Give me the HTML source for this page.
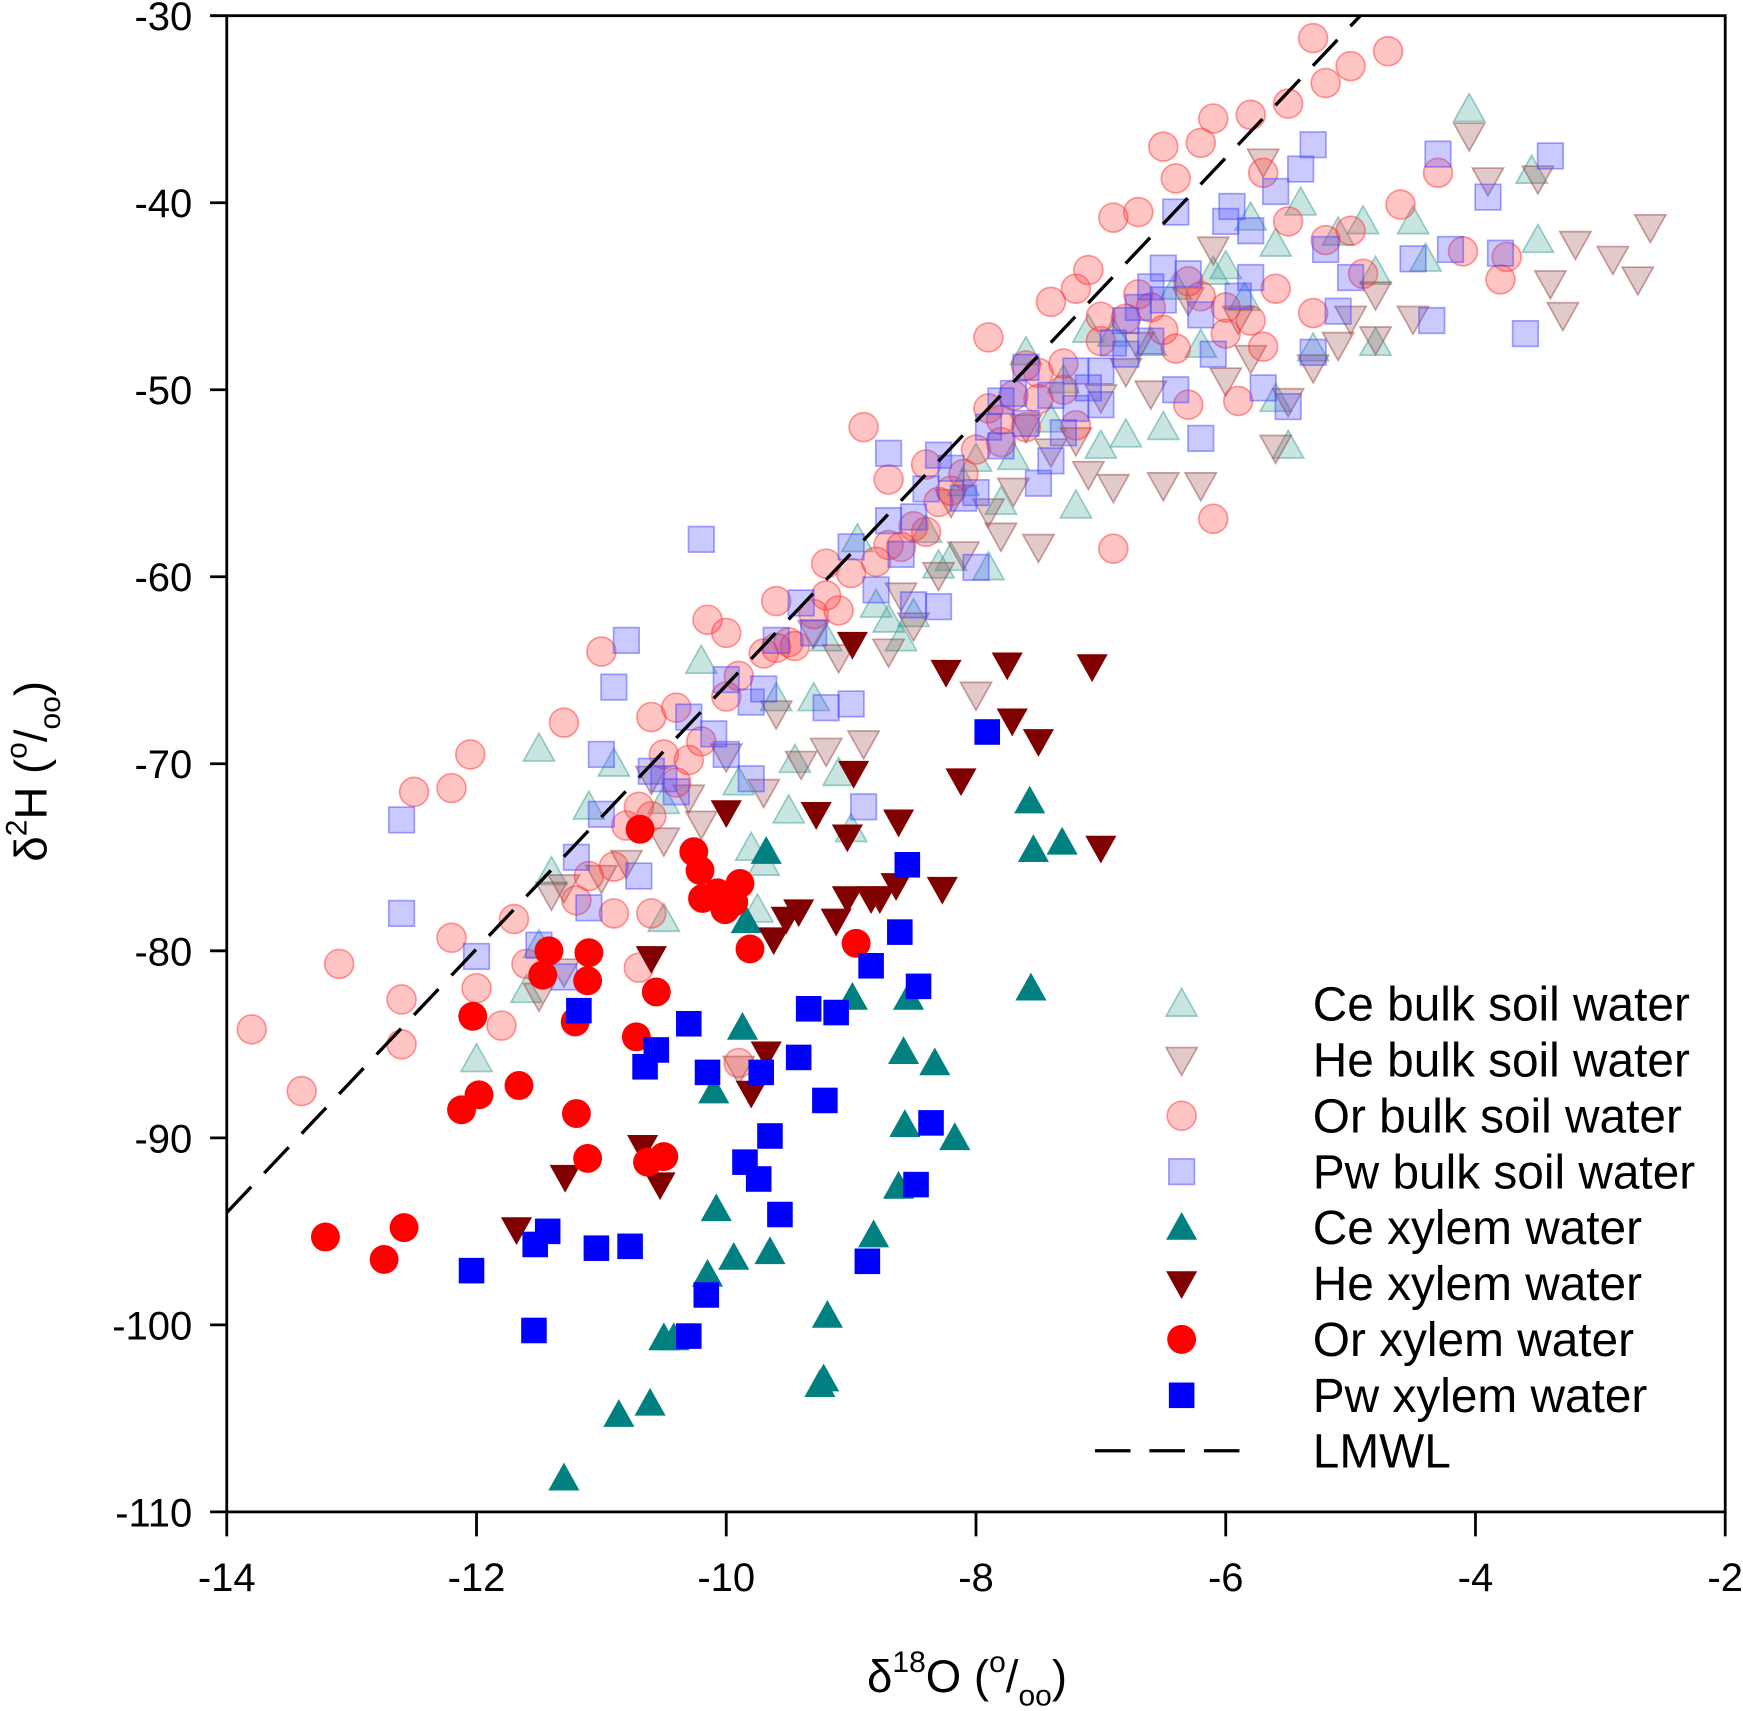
<!DOCTYPE html>
<html><head><meta charset="utf-8"><style>
html,body{margin:0;padding:0;background:#fff}
svg{display:block;font-family:"Liberation Sans",Arial,sans-serif}
</style></head><body>
<svg id="chart" width="1743" height="1711" viewBox="0 0 1568 1539" xmlns="http://www.w3.org/2000/svg">
<g id="marks"></g>
<g id="axes"></g>
<g id="legend"></g>
</svg>
<script>
const xTicks=[-14,-12,-10,-8,-6,-4,-2];
const yTicks=[-30,-40,-50,-60,-70,-80,-90,-100,-110];
const lmwlSlope=7.05, lmwlIntercept=4.7;
const orBulk=[[-13.8,-84.2],[-13.4,-87.5],[-13.1,-80.7],[-12.6,-82.6],[-12.6,-85],[-12.5,-71.5],[-12.2,-79.3],[-12.2,-71.3],[-12.05,-69.5],[-12.0,-82],[-11.8,-84],[-11.7,-78.3],[-11.6,-80.7],[-11.3,-67.8],[-11.2,-77.3],[-11.0,-64],[-10.9,-78],[-10.9,-75.5],[-10.7,-80.9],[-10.6,-67.5],[-10.6,-78],[-10.5,-69.5],[-10.4,-67],[-10.15,-62.3],[-10.0,-63],[-9.9,-86],[-9.6,-61.3],[-9.2,-59.3],[-8.7,-54.8],[-8.9,-52],[-8.4,-54],[-7.9,-47.2],[-7.6,-48.7],[-7.4,-45.3],[-7.2,-44.6],[-7.1,-43.6],[-6.9,-58.5],[-6.9,-40.8],[-6.7,-40.5],[-6.5,-37],[-6.4,-38.7],[-6.2,-36.8],[-6.1,-35.5],[-6.1,-56.9],[-5.8,-35.3],[-5.7,-38.4],[-5.5,-34.7],[-5.3,-31.2],[-5.2,-33.6],[-5.0,-32.7],[-4.7,-31.9],[-4.3,-38.4],[-4.6,-40.1],[-3.8,-44.1],[-4.1,-42.6],[-3.75,-42.9],[-4.9,-43.8],[-5.2,-42],[-5.0,-41.5],[-5.3,-45.9],[-5.6,-44.6],[-6.0,-47],[-6.3,-50.8],[-5.9,-50.6],[-6.8,-46.2],[-7.0,-47.4],[-7.3,-50],[-7.6,-52],[-7.9,-51],[-8.0,-53.2],[-8.3,-56],[-8.5,-57.3],[-8.7,-58.3],[-9.0,-59.8],[-9.3,-62],[-9.5,-63.5],[-9.7,-64.1],[-9.9,-65.3],[-10.2,-68.8],[-10.4,-71],[-10.6,-72.8],[-10.8,-73.3],[-11.1,-76],[-9.1,-61.8],[-8.2,-55.4],[-7.7,-50.3],[-7.5,-49.1],[-6.6,-45.6],[-6.4,-47.8],[-6.2,-45],[-5.8,-46.3],[-5.5,-41],[-9.45,-63.7],[-8.6,-58.4],[-7.8,-52.8],[-8.1,-54.5],[-7.8,-51.6],[-7.5,-50.5],[-7.3,-48.6],[-7.0,-46.1],[-6.7,-44.9],[-6.5,-46.8],[-6.3,-44.2],[-8.4,-57.6],[-8.8,-59.2],[-9.2,-61.0],[-9.6,-63.8],[-10.0,-66.4],[-10.3,-69.8],[-10.7,-72.3],[-6.0,-45.6],[-5.7,-47.7],[-7.2,-51.9]];
const pwBulk=[[-12.6,-73],[-12.6,-78],[-12.0,-80.3],[-11.5,-79.7],[-11.3,-81.4],[-11.1,-77.7],[-11.2,-75],[-11.0,-72.7],[-10.9,-65.9],[-10.8,-63.4],[-11.0,-69.5],[-10.7,-76],[-10.5,-70.8],[-10.3,-67.5],[-10.2,-58],[-10.0,-69.5],[-9.8,-66.7],[-9.6,-63.4],[-9.4,-61.4],[-9.2,-67],[-9.0,-66.8],[-8.9,-72.3],[-9.0,-58.4],[-8.8,-60.7],[-8.5,-61.5],[-8.3,-61.6],[-8.0,-59.5],[-8.3,-53.5],[-7.9,-52],[-7.6,-48.8],[-7.4,-53.8],[-7.2,-51],[-7.0,-49],[-6.8,-46.3],[-6.5,-43.5],[-6.4,-50],[-6.2,-46],[-6.0,-41],[-5.8,-41.5],[-5.6,-39.4],[-5.4,-38.2],[-5.3,-36.9],[-5.2,-42.5],[-5.0,-44],[-5.1,-45.8],[-5.3,-48],[-5.5,-50.9],[-5.7,-49.9],[-5.9,-45],[-6.2,-52.6],[-6.6,-44.5],[-6.9,-47.5],[-7.1,-49.9],[-7.3,-52.3],[-7.5,-55],[-7.8,-53],[-8.1,-55.8],[-8.4,-55.3],[-8.6,-58.8],[-4.3,-37.4],[-4.35,-46.3],[-4.5,-43],[-4.2,-42.5],[-3.8,-42.7],[-3.6,-47],[-3.4,-37.5],[-3.9,-39.7],[-6.4,-40.5],[-5.95,-40.2],[-9.8,-70.8],[-10.0,-65.5],[-8.7,-53.4],[-7.7,-50.2],[-6.7,-45.6],[-8.2,-54.2],[-8.0,-55.5],[-7.8,-50.6],[-7.6,-51.8],[-7.4,-50.3],[-7.2,-49.0],[-7.0,-50.8],[-6.8,-48.1],[-6.6,-47.4],[-6.5,-45.2],[-6.3,-43.8],[-8.5,-56.8],[-8.7,-57.0],[-9.3,-63.0],[-9.7,-66.0],[-10.1,-68.4],[-10.4,-71.5],[-10.6,-70.4],[-5.8,-44.0],[-6.1,-48.1]];
const ceBulk=[[-12.0,-85.8],[-11.6,-82.1],[-11.5,-79.7],[-11.4,-75.8],[-11.1,-72.3],[-10.5,-78.3],[-11.5,-69.2],[-10.2,-64.5],[-9.9,-71],[-9.8,-74.5],[-9.75,-77.8],[-9.7,-75.3],[-9.5,-72.5],[-9.45,-69.8],[-9.3,-66.5],[-9.1,-70.5],[-9.0,-73.5],[-8.95,-58],[-8.8,-61.5],[-8.6,-63.3],[-8.5,-62],[-8.2,-59],[-8.0,-53.7],[-7.9,-59.5],[-7.7,-53.6],[-7.6,-48],[-7.4,-51.6],[-7.2,-56.2],[-7.0,-53],[-6.8,-52.4],[-6.6,-47.5],[-6.4,-44.5],[-6.2,-47.6],[-6.0,-43.4],[-5.8,-40.8],[-5.6,-42.2],[-5.4,-40],[-5.3,-47.8],[-5.5,-53],[-5.6,-50.5],[-5.85,-45.1],[-4.8,-43.7],[-5.1,-41.6],[-4.9,-41],[-4.5,-41.0],[-4.4,-43],[-4.05,-35],[-3.55,-38.3],[-3.5,-42],[-4.8,-47.5],[-6.5,-52],[-7.1,-46.8],[-8.3,-59.4],[-9.6,-66.5],[-10.5,-72],[-10.9,-70],[-9.2,-63.3],[-8.7,-62.3],[-7.8,-56],[-6.1,-43.7],[-7.3,-49.5],[-6.9,-47.0],[-8.1,-55.0],[-8.4,-57.5]];
const heBulk=[[-11.5,-82.4],[-11.3,-81.1],[-11.4,-77],[-11.3,-76.6],[-11.0,-76.1],[-10.8,-75.3],[-10.5,-74.1],[-10.3,-71.8],[-10.2,-73.2],[-10.0,-69.6],[-9.9,-86.3],[-9.7,-71.5],[-9.4,-70],[-9.2,-69.3],[-8.9,-68.9],[-8.7,-64],[-8.5,-62.6],[-8.3,-59.9],[-8.1,-58.8],[-8.0,-66.3],[-7.8,-57.8],[-7.5,-58.4],[-7.4,-53.3],[-7.1,-54.5],[-6.9,-55.2],[-6.6,-50.2],[-6.5,-55.1],[-6.2,-55.1],[-6.0,-49.5],[-5.8,-48.3],[-5.6,-53.1],[-5.5,-50.6],[-5.3,-48.8],[-5.1,-47.6],[-5.0,-46.2],[-4.8,-44.9],[-4.8,-47.3],[-4.5,-46.2],[-4.05,-36.4],[-3.9,-38.8],[-3.5,-38.7],[-3.4,-44.3],[-3.2,-42.2],[-2.9,-43],[-2.7,-44.1],[-2.6,-41.3],[-3.3,-46],[-5.7,-37.8],[-6.1,-42.5],[-6.3,-45.2],[-6.7,-47.6],[-7.0,-50.4],[-7.2,-52.7],[-7.7,-55.4],[-8.6,-61],[-9.1,-64.3],[-9.6,-67.3],[-10.6,-70.8],[-5.9,-46.2],[-7.9,-56.5],[-8.2,-56.0],[-7.6,-52.0],[-6.8,-49.0],[-9.3,-63.0]];
const ceXylem=[[-11.30,-108.2],[-10.86,-104.8],[-10.61,-104.2],[-10.50,-100.7],[-10.42,-100.7],[-10.15,-97.3],[-10.10,-87.5],[-10.08,-93.8],[-9.94,-96.4],[-9.87,-84.1],[-9.84,-78.4],[-9.68,-74.7],[-9.65,-96.1],[-9.19,-99.5],[-9.25,-103.2],[-9.22,-102.9],[-8.99,-82.5],[-8.82,-95.2],[-8.62,-92.6],[-8.58,-85.4],[-8.57,-89.3],[-8.54,-82.5],[-8.33,-86.0],[-8.17,-90.0],[-7.57,-72.0],[-7.54,-74.6],[-7.31,-74.2],[-7.56,-82.0]];
const heXylem=[[-11.68,-94.9],[-11.29,-92.1],[-10.67,-90.5],[-10.53,-92.5],[-10.60,-80.4],[-10.0,-72.6],[-9.80,-87.6],[-9.68,-85.5],[-9.62,-79.4],[-9.52,-78.3],[-9.42,-77.9],[-9.28,-72.7],[-9.12,-78.4],[-9.03,-73.9],[-9.03,-77.2],[-8.99,-63.6],[-8.98,-70.5],[-8.84,-77.2],[-8.77,-77.2],[-8.64,-76.5],[-8.62,-73.1],[-8.27,-76.7],[-8.24,-65.1],[-8.12,-70.9],[-7.75,-64.7],[-7.71,-67.7],[-7.50,-68.8],[-7.07,-64.8],[-7.0,-74.5]];
const orXylem=[[-13.21,-95.3],[-12.74,-96.5],[-12.58,-94.8],[-12.12,-88.5],[-11.98,-87.7],[-12.03,-83.5],[-11.66,-87.2],[-11.47,-81.3],[-11.42,-80.0],[-11.10,-80.1],[-11.11,-81.6],[-11.21,-83.8],[-11.2,-88.7],[-11.11,-91.1],[-10.69,-73.5],[-10.72,-84.6],[-10.56,-82.2],[-10.63,-91.3],[-10.5,-91.0],[-10.26,-74.7],[-10.21,-75.7],[-10.19,-77.2],[-10.07,-76.9],[-10.01,-77.8],[-9.89,-76.4],[-9.81,-79.9],[-8.96,-79.6],[-9.94,-77.4]];
const pwXylem=[[-12.04,-97.1],[-11.54,-100.3],[-11.53,-95.7],[-11.43,-95.0],[-11.18,-83.2],[-11.04,-95.9],[-10.77,-95.8],[-10.65,-86.2],[-10.56,-85.3],[-10.30,-83.9],[-10.30,-100.6],[-10.15,-86.5],[-10.16,-98.4],[-9.85,-91.3],[-9.74,-92.2],[-9.72,-86.5],[-9.65,-89.9],[-9.57,-94.1],[-9.42,-85.7],[-9.34,-83.1],[-9.21,-88.0],[-9.12,-83.3],[-8.87,-96.6],[-8.84,-80.8],[-8.61,-79.0],[-8.55,-75.4],[-8.46,-81.9],[-8.36,-89.2],[-8.48,-92.5],[-7.91,-68.3]];

const NS="http://www.w3.org/2000/svg";
const X0=204,X1=1552,Y0=14,Y1=1360;
function xs(v){return X0+(v-(-14))/12*(X1-X0);}
function ys(v){return Y0+(-30-v)/80*(Y1-Y0);}
function mk(tag,attrs,parent){const e=document.createElementNS(NS,tag);for(const k in attrs)e.setAttribute(k,attrs[k]);parent.appendChild(e);return e;}
function shape(type,cx,cy,fill,stroke,op,parent){
  let e;
  if(type==='circle'){e=mk('circle',{cx:cx,cy:cy,r:13},parent);}
  else if(type==='square'){e=mk('rect',{x:cx-11.5,y:cy-11.5,width:23,height:23},parent);}
  else if(type==='up'){e=mk('polygon',{points:`${cx},${cy-14} ${cx+14},${cy+11} ${cx-14},${cy+11}`},parent);}
  else {e=mk('polygon',{points:`${cx},${cy+14} ${cx+14},${cy-11} ${cx-14},${cy-11}`},parent);}
  e.setAttribute('fill',fill);e.setAttribute('fill-opacity',op);
  if(stroke){e.setAttribute('stroke',stroke);e.setAttribute('stroke-opacity',Math.min(1,op*1.6));e.setAttribute('stroke-width',1.5);}
  return e;
}
const series=[
 {name:'ce-bulk',data:ceBulk,type:'up',fill:'#4aa8a0',op:0.3,stroke:'#3a9a90',label:'Ce bulk soil water'},
 {name:'he-bulk',data:heBulk,type:'down',fill:'#a05050',op:0.3,stroke:'#904040',label:'He bulk soil water'},
 {name:'or-bulk',data:orBulk,type:'circle',fill:'#ff4040',op:0.3,stroke:'#ff3030',label:'Or bulk soil water'},
 {name:'pw-bulk',data:pwBulk,type:'square',fill:'#5050ff',op:0.3,stroke:'#4040ff',label:'Pw bulk soil water'},
 {name:'ce-xylem',data:ceXylem,type:'up',fill:'#008080',op:1,stroke:null,label:'Ce xylem water'},
 {name:'he-xylem',data:heXylem,type:'down',fill:'#800000',op:1,stroke:null,label:'He xylem water'},
 {name:'or-xylem',data:orXylem,type:'circle',fill:'#ff0000',op:1,stroke:null,label:'Or xylem water'},
 {name:'pw-xylem',data:pwXylem,type:'square',fill:'#0000ff',op:1,stroke:null,label:'Pw xylem water'}
];
const marks=document.getElementById('marks');
series.forEach(s=>{
  const g=mk('g',{},marks);
  
  
  s.data.forEach(d=>{
    const e=shape(s.type,xs(d[0]),ys(d[1]),s.fill,s.stroke,s.op,g);
    
    
  });
});
const lx0=-14, lx1=(-30-lmwlIntercept)/lmwlSlope;
const lm=mk('line',{x1:xs(lx0),y1:ys(lmwlSlope*lx0+lmwlIntercept),x2:xs(lx1),y2:ys(lmwlSlope*lx1+lmwlIntercept),stroke:'#000','stroke-width':3,'stroke-dasharray':'32,17'},marks);


const ax=document.getElementById('axes');
const frame=mk('rect',{x:X0,y:Y0,width:X1-X0,height:Y1-Y0,fill:'none',stroke:'#000','stroke-width':2.5},ax);


xTicks.forEach(t=>{
  mk('line',{x1:xs(t),y1:Y1,x2:xs(t),y2:Y1+22,stroke:'#000','stroke-width':2.5},ax);
  const tx=mk('text',{x:xs(t),y:1431,'font-size':36,'text-anchor':'middle'},ax);
  tx.textContent=t;
  
  
});
yTicks.forEach(t=>{
  mk('line',{x1:X0-15,y1:ys(t),x2:X0,y2:ys(t),stroke:'#000','stroke-width':2.5},ax);
  const tx=mk('text',{x:173,y:ys(t)+13,'font-size':36,'text-anchor':'end'},ax);
  tx.textContent=t;
  
  
});
const lg=document.getElementById('legend');
series.forEach((s,i)=>{
  const cy=903+i*50.3;
  const e=shape(s.type,1063,cy,s.fill,s.stroke,s.op,lg);
  
  
  const t=mk('text',{x:1181,y:cy+15,'font-size':43},lg);
  t.textContent=s.label;
  
  
});
const ll=mk('line',{x1:985,y1:1305,x2:1127,y2:1305,stroke:'#000','stroke-width':3,'stroke-dasharray':'32,17'},lg);


const lt=mk('text',{x:1181,y:1320,'font-size':43},lg);
lt.textContent='LMWL';


</script>
<svg style="position:absolute;left:0;top:0" width="1743" height="1711" viewBox="0 0 1568 1539">
<text x="780" y="1522" font-size="41" font-family="Liberation Sans, sans-serif">δ<tspan font-size="27" dy="-18">18</tspan><tspan dy="18">O (</tspan><tspan font-size="27" dy="-18">o</tspan><tspan dy="18">/</tspan><tspan font-size="27" dy="12">oo</tspan><tspan dy="-12">)</tspan></text>
<g transform="translate(42,690) rotate(-90)">
<text x="-85" y="0" font-size="41" font-family="Liberation Sans, sans-serif">δ<tspan font-size="27" dy="-18">2</tspan><tspan dy="18">H (</tspan><tspan font-size="27" dy="-18">o</tspan><tspan dy="18">/</tspan><tspan font-size="27" dy="12">oo</tspan><tspan dy="-12">)</tspan></text>
</g>
</svg>
</body></html>
